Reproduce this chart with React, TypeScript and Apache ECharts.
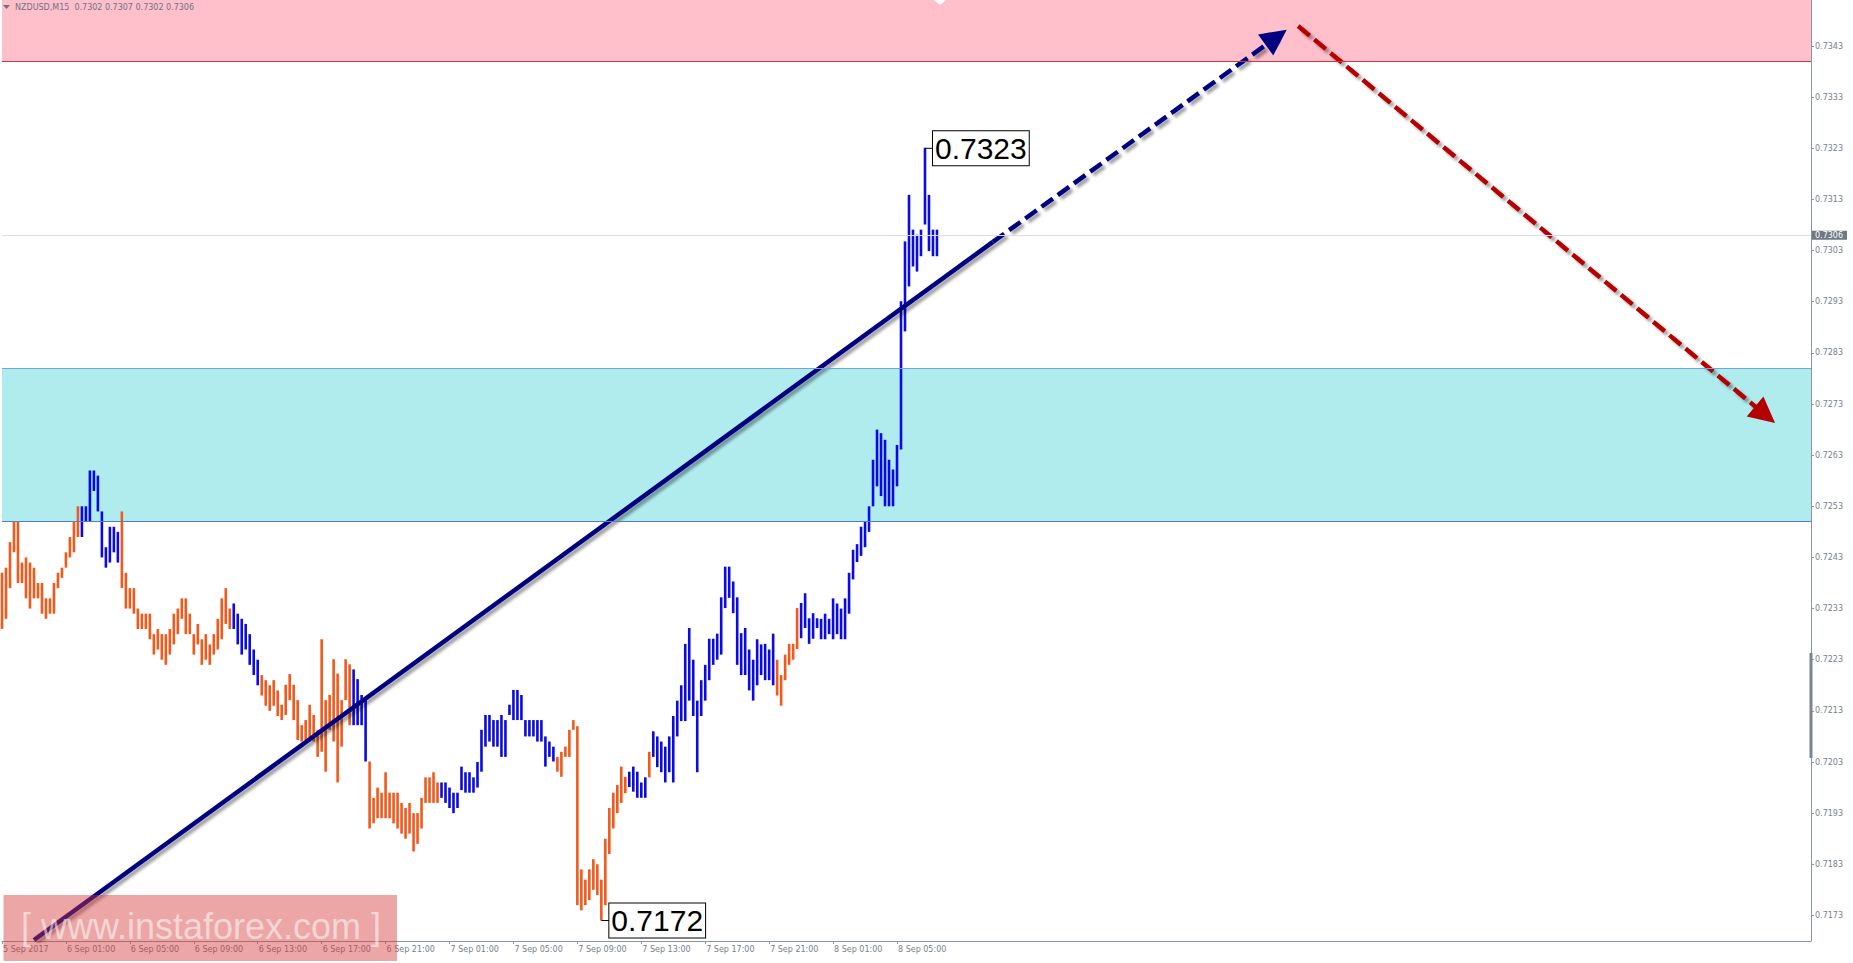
import { useEffect, useRef } from 'react';
import * as echarts from 'echarts';

// ---- data ----
const tickLabels = [
  '5 Sep 2017', '6 Sep 01:00', '6 Sep 05:00', '6 Sep 09:00', '6 Sep 13:00', '6 Sep 17:00',
  '6 Sep 21:00', '7 Sep 01:00', '7 Sep 05:00', '7 Sep 09:00', '7 Sep 13:00', '7 Sep 17:00',
  '7 Sep 21:00', '8 Sep 01:00', '8 Sep 05:00',
];
const barsPerLabel = 16;
const yTicks = [
  0.7173, 0.7183, 0.7193, 0.7203, 0.7213, 0.7223, 0.7233, 0.7243, 0.7253,
  0.7263, 0.7273, 0.7283, 0.7293, 0.7303, 0.7313, 0.7323, 0.7333, 0.7343,
];

const highs = [
  0.7240, 0.7241, 0.7246, 0.7250, 0.7250, 0.7242, 0.7243, 0.7242, 0.7241, 0.7238,
  0.7238, 0.7235, 0.7235, 0.7238, 0.7240, 0.7241, 0.7244, 0.7247, 0.7250, 0.7253,
  0.7253, 0.7253, 0.7260, 0.7260, 0.7259, 0.7252, 0.7245, 0.7249, 0.7249, 0.7248,
  0.7252, 0.7240, 0.7237, 0.7237, 0.7233, 0.7232, 0.7232, 0.7232, 0.7228, 0.7229,
  0.7228, 0.7228, 0.7229, 0.7232, 0.7233, 0.7235, 0.7235, 0.7232, 0.7228, 0.7230,
  0.7227, 0.7228, 0.7226, 0.7228, 0.7231, 0.7235, 0.7237, 0.7233, 0.7234, 0.7232,
  0.7231, 0.7230, 0.7228, 0.7225, 0.7223, 0.7220, 0.7219, 0.7218, 0.7219, 0.7217,
  0.72142, 0.72181, 0.72202, 0.72181, 0.72151, 0.72102, 0.72112, 0.72142, 0.72122, 0.72093,
  0.72270, 0.72151, 0.72161, 0.72231, 0.72203, 0.72151, 0.72231, 0.72221, 0.72211, 0.72192,
  0.72161, 0.72151, 0.72031, 0.7196, 0.7198, 0.7197, 0.7201, 0.7197, 0.7197, 0.7197,
  0.7195, 0.7194, 0.7195, 0.7193, 0.7193, 0.7196, 0.7200, 0.7200, 0.7201, 0.7199,
  0.7199, 0.7199, 0.7198, 0.7197, 0.7197, 0.72021, 0.7201, 0.7201, 0.7200, 0.7203,
  0.72093, 0.72122, 0.72122, 0.72112, 0.72112, 0.72122, 0.72112, 0.72142, 0.72171, 0.72171,
  0.72161, 0.72112, 0.72112, 0.72112, 0.72112, 0.72112, 0.72080, 0.72070, 0.72060, 0.72040,
  0.72050, 0.72060, 0.72093, 0.72112, 0.72100, 0.71820, 0.71800, 0.71820, 0.71840, 0.71830,
  0.71800, 0.71880, 0.71940, 0.71970, 0.71985, 0.72021, 0.72001, 0.72011, 0.72021, 0.72011,
  0.71990, 0.72000, 0.72050, 0.72090, 0.72080, 0.72070, 0.72060, 0.72080, 0.72120, 0.72150,
  0.72180, 0.72261, 0.72292, 0.72230, 0.72150, 0.72190, 0.72220, 0.72271, 0.72271, 0.72281,
  0.72352, 0.72412, 0.72412, 0.72383, 0.72352, 0.72282, 0.72292, 0.72250, 0.72230, 0.72270,
  0.72260, 0.72261, 0.72250, 0.72281, 0.72230, 0.72200, 0.72240, 0.72261, 0.72261, 0.72331,
  0.72341, 0.72360, 0.72311, 0.72321, 0.72311, 0.72310, 0.72320, 0.72310, 0.72350, 0.72340,
  0.72330, 0.72350, 0.72400, 0.72445, 0.72456, 0.72490, 0.72500, 0.72530, 0.72621, 0.72680,
  0.72673, 0.72660, 0.72621, 0.72602, 0.72650, 0.72931, 0.73048, 0.73139, 0.73071, 0.73061,
  0.73071, 0.73231, 0.73139, 0.73071, 0.73071,
];
const lows = [
  0.7229, 0.7231, 0.7237, 0.7244, 0.7238, 0.7238, 0.7235, 0.7233, 0.7235, 0.7235,
  0.7232, 0.7231, 0.7232, 0.7232, 0.7237, 0.7239, 0.7241, 0.7243, 0.7244, 0.7247,
  0.7247, 0.7250, 0.7250, 0.7256, 0.7252, 0.7243, 0.7241, 0.7242, 0.7244, 0.7242,
  0.7237, 0.7233, 0.7233, 0.7232, 0.7229, 0.7229, 0.7229, 0.7227, 0.7224, 0.7225,
  0.7223, 0.7222, 0.7224, 0.7226, 0.7228, 0.7231, 0.7228, 0.7228, 0.7224, 0.7226,
  0.7222, 0.7223, 0.7222, 0.7224, 0.7225, 0.7227, 0.7230, 0.7229, 0.7229, 0.7226,
  0.7224, 0.7225, 0.7222, 0.7220, 0.7218, 0.7216, 0.7214, 0.7213, 0.7214, 0.7212,
  0.72112, 0.72122, 0.72151, 0.72112, 0.72073, 0.72070, 0.72073, 0.72070, 0.72070, 0.72040,
  0.72050, 0.72011, 0.72093, 0.72070, 0.71990, 0.72060, 0.72151, 0.72102, 0.72102, 0.72102,
  0.72102, 0.72031, 0.7190, 0.7191, 0.7192, 0.7192, 0.7192, 0.7192, 0.7191, 0.7190,
  0.7189, 0.7188, 0.7189, 0.71855, 0.7187, 0.7190, 0.7195, 0.7195, 0.7195, 0.7195,
  0.7196, 0.7195, 0.7194, 0.7193, 0.7194, 0.71975, 0.7197, 0.7197, 0.7197, 0.7198,
  0.72011, 0.72060, 0.72070, 0.72060, 0.72060, 0.72040, 0.72040, 0.72122, 0.72112, 0.72112,
  0.72112, 0.72080, 0.72080, 0.72080, 0.72070, 0.72070, 0.72021, 0.72040, 0.72031, 0.72011,
  0.72001, 0.72040, 0.72040, 0.72093, 0.71750, 0.71740, 0.71750, 0.71760, 0.71780, 0.71770,
  0.71720, 0.71750, 0.71850, 0.71900, 0.71930, 0.71950, 0.71969, 0.71981, 0.71972, 0.71960,
  0.71960, 0.71960, 0.72000, 0.72040, 0.72020, 0.72010, 0.71990, 0.72010, 0.71990, 0.72080,
  0.72110, 0.72110, 0.72150, 0.72120, 0.72010, 0.72120, 0.72150, 0.72190, 0.72220, 0.72230,
  0.72240, 0.72331, 0.72351, 0.72321, 0.72220, 0.72200, 0.72200, 0.72170, 0.72150, 0.72180,
  0.72200, 0.72190, 0.72190, 0.72180, 0.72160, 0.72140, 0.72190, 0.72220, 0.72230, 0.72251,
  0.72272, 0.72292, 0.72261, 0.72271, 0.72292, 0.72270, 0.72270, 0.72280, 0.72270, 0.72280,
  0.72270, 0.72270, 0.72320, 0.72387, 0.72421, 0.72433, 0.72450, 0.72480, 0.72530, 0.72569,
  0.72550, 0.72530, 0.72530, 0.72530, 0.72569, 0.72641, 0.72872, 0.72960, 0.72999, 0.72989,
  0.73019, 0.73081, 0.73029, 0.73019, 0.73019,
];
// wave colouring of the bars, as runs: [colour key, bar count]
const colorRuns: [string, number][] = [
  ['o', 20], ['b', 10], ['o', 28], ['b', 7], ['o', 23], ['b', 4], ['o', 18], ['b', 29],
  ['o', 18], ['b', 5], ['o', 1], ['b', 31], ['o', 6], ['b', 35],
];

const pinkZone = [0.7340, 0.7352];
const cyanZone = [0.7250, 0.7280];
const currentPrice = 0.7306;
const titleText = 'NZDUSD,M15  0.7302 0.7307 0.7302 0.7306';

// annotations (bar index, price)
const trendSolid = [[8, 0.71682], [248, 0.73047]];
const trendDashed = [[248, 0.73047], [318.9, 0.73447]];
const forecastArrow = [[324.4, 0.73469], [441.25, 0.72709]];
const extremes = [[231, 0.7323], [150, 0.7172]];

const Y_MIN = 0.7168;
const Y_MAX = 0.7352;
const X_MAX = 452.75;

const ORANGE = '#f2591a';
const BLUE = '#0a0ae6';
const AXIS_GREY = '#8b95a1';
const LABEL_GREY = '#77818e';

export default function App() {
  const ref = useRef<HTMLDivElement>(null);

  useEffect(() => {
    if (!ref.current) return;
    const chart = echarts.init(ref.current, undefined, { renderer: 'svg' });

    const colorKeys: string[] = [];
    colorRuns.forEach(([k, n]) => { for (let j = 0; j < n; j++) colorKeys.push(k); });
    const barData = highs.map((h, i) => [i, lows[i], h, colorKeys[i] === 'b' ? 1 : 0]);
    const tickIdx = tickLabels.map((_, k) => k * barsPerLabel);

    const shadow = { shadowColor: 'rgba(0,0,0,0.38)', shadowBlur: 3, shadowOffsetX: 3, shadowOffsetY: 3 };

    const option: any = {
      animation: false,
      backgroundColor: '#ffffff',
      grid: { left: 0, right: 42, top: 0, bottom: 22, containLabel: false },
      xAxis: {
        type: 'value',
        min: 0,
        max: X_MAX,
        splitLine: { show: false },
        axisLine: { show: true, onZero: false, lineStyle: { color: AXIS_GREY, width: 1 } },
        axisTick: { show: true, length: 3, customValues: tickIdx, lineStyle: { color: AXIS_GREY } },
        axisLabel: {
          show: true,
          customValues: tickIdx,
          align: 'left',
          margin: 4,
          padding: [0, 0, 0, 1],
          color: LABEL_GREY,
          fontSize: 8,
          fontFamily: 'DejaVu Sans',
          formatter: (v: number) => {
            const k = Math.round(v / barsPerLabel);
            return tickLabels[k] ?? '';
          },
        },
      },
      yAxis: {
        type: 'value',
        position: 'right',
        min: Y_MIN,
        max: Y_MAX,
        scale: true,
        splitLine: { show: false },
        axisLine: { show: true, onZero: false, lineStyle: { color: AXIS_GREY, width: 1 } },
        axisTick: { show: true, length: 3, customValues: yTicks, lineStyle: { color: AXIS_GREY } },
        axisLabel: {
          show: true,
          customValues: yTicks,
          margin: 4,
          color: LABEL_GREY,
          fontSize: 8,
          fontFamily: 'DejaVu Sans',
          formatter: (v: number) => v.toFixed(4),
        },
      },
      series: [
        {
          type: 'line',
          name: 'zones',
          data: [],
          z: 1,
          silent: true,
          markArea: {
            silent: true,
            precision: 5,
            data: [
              [{ yAxis: pinkZone[0], itemStyle: { color: '#ffc0cb' } }, { yAxis: pinkZone[1] }],
              [{ yAxis: cyanZone[0], itemStyle: { color: '#b0ecee' } }, { yAxis: cyanZone[1] }],
            ],
          },
          markLine: {
            silent: true,
            precision: 5,
            symbol: ['none', 'none'],
            data: [
              { yAxis: pinkZone[0], lineStyle: { color: '#c43a40', width: 1, type: 'solid' }, label: { show: false } },
              { yAxis: cyanZone[1], lineStyle: { color: '#6aa8dc', width: 1, type: 'solid' }, label: { show: false } },
              { yAxis: cyanZone[0], lineStyle: { color: '#4f80cf', width: 1.2, type: 'solid' }, label: { show: false } },
              {
                yAxis: currentPrice,
                lineStyle: { color: '#dcdcee', width: 1, type: 'solid' },
                label: {
                  show: true,
                  position: 'end',
                  distance: 1,
                  formatter: currentPrice.toFixed(4),
                  backgroundColor: '#6e7984',
                  color: '#ffffff',
                  fontSize: 8,
                  fontFamily: 'DejaVu Sans',
                  padding: [1, 4, 0, 3],
                },
              },
            ],
          },
        },
        {
          type: 'custom',
          name: 'bars',
          z: 2,
          silent: true,
          data: barData,
          encode: { x: 0, y: [1, 2] },
          renderItem: (_p: any, api: any) => {
            const i = api.value(0);
            const top = api.coord([i, api.value(2)]);
            const bot = api.coord([i, api.value(1)]);
            return {
              type: 'rect',
              shape: { x: top[0] - 1.3, y: top[1], width: 2.6, height: Math.max(1, bot[1] - top[1]) },
              style: { fill: api.value(3) ? BLUE : ORANGE },
            };
          },
        },
        {
          type: 'lines',
          coordinateSystem: 'cartesian2d',
          z: 3,
          silent: true,
          symbol: ['none', 'none'],
          lineStyle: { color: '#000080', width: 4.5, type: 'solid', opacity: 1, ...shadow },
          data: [{ coords: trendSolid }],
        },
        {
          type: 'lines',
          coordinateSystem: 'cartesian2d',
          z: 3,
          silent: true,
          symbol: ['none', 'triangle'],
          symbolSize: 26,
          lineStyle: { color: '#000080', width: 4.5, type: [14, 6], opacity: 1, ...shadow },
          data: [{ coords: trendDashed }],
        },
        {
          type: 'lines',
          coordinateSystem: 'cartesian2d',
          z: 3,
          silent: true,
          symbol: ['none', 'triangle'],
          symbolSize: 26,
          lineStyle: { color: '#b40000', width: 4.5, type: [15, 6], opacity: 1, ...shadow },
          data: [{ coords: forecastArrow }],
        },
        {
          type: 'custom',
          name: 'extremes',
          z: 4,
          silent: true,
          data: extremes,
          encode: { x: 0, y: 1 },
          renderItem: (_p: any, api: any) => {
            const p = api.coord([api.value(0), api.value(1)]);
            return {
              type: 'group',
              children: [
                { type: 'line', shape: { x1: p[0], y1: p[1], x2: p[0] + 9, y2: p[1] }, style: { stroke: '#000', lineWidth: 1 } },
                {
                  type: 'text',
                  x: p[0] + 8,
                  y: p[1],
                  style: {
                    text: Number(api.value(1)).toFixed(4),
                    font: '30px "Liberation Sans", Arial, sans-serif',
                    fill: '#000',
                    align: 'left',
                    verticalAlign: 'middle',
                    backgroundColor: '#ffffff',
                    borderColor: '#000000',
                    borderWidth: 1,
                    padding: [3, 2, 1, 2],
                  },
                },
              ],
            };
          },
        },
      ],
      graphic: [
        { type: 'polygon', z: 100, silent: true, shape: { points: [[3, 5], [10, 5], [6.5, 9]] }, style: { fill: '#6c7484' } },
        {
          type: 'text', z: 100, silent: true, x: 15, y: 7,
          style: { text: titleText, fill: '#6c7484', font: '8px "DejaVu Sans"', verticalAlign: 'middle' },
        },
        { type: 'polygon', z: 100, silent: true, shape: { points: [[934, 0], [946, 0], [940, 5]] }, style: { fill: '#ffffff' } },
        { type: 'rect', z: 100, silent: true, shape: { x: 1809.5, y: 653, width: 3, height: 105 }, style: { fill: '#7a8591' } },
        { type: 'rect', z: 100, silent: true, shape: { x: 3.5, y: 895, width: 393.5, height: 66 }, style: { fill: 'rgba(212,55,55,0.445)' } },
        {
          type: 'text', z: 101, silent: true, x: 21, y: 926,
          style: {
            text: '[ www.instaforex.com ]',
            fill: 'rgba(255,255,255,0.55)',
            font: '36px "Liberation Sans", Arial, sans-serif',
            verticalAlign: 'middle',
          },
        },
      ],
    };

    chart.setOption(option);
    return () => chart.dispose();
  }, []);

  return (
    <div
      ref={ref}
      style={{ position: 'fixed', left: 0, top: 0, width: 1853, height: 963, background: '#fff' }}
    />
  );
}
